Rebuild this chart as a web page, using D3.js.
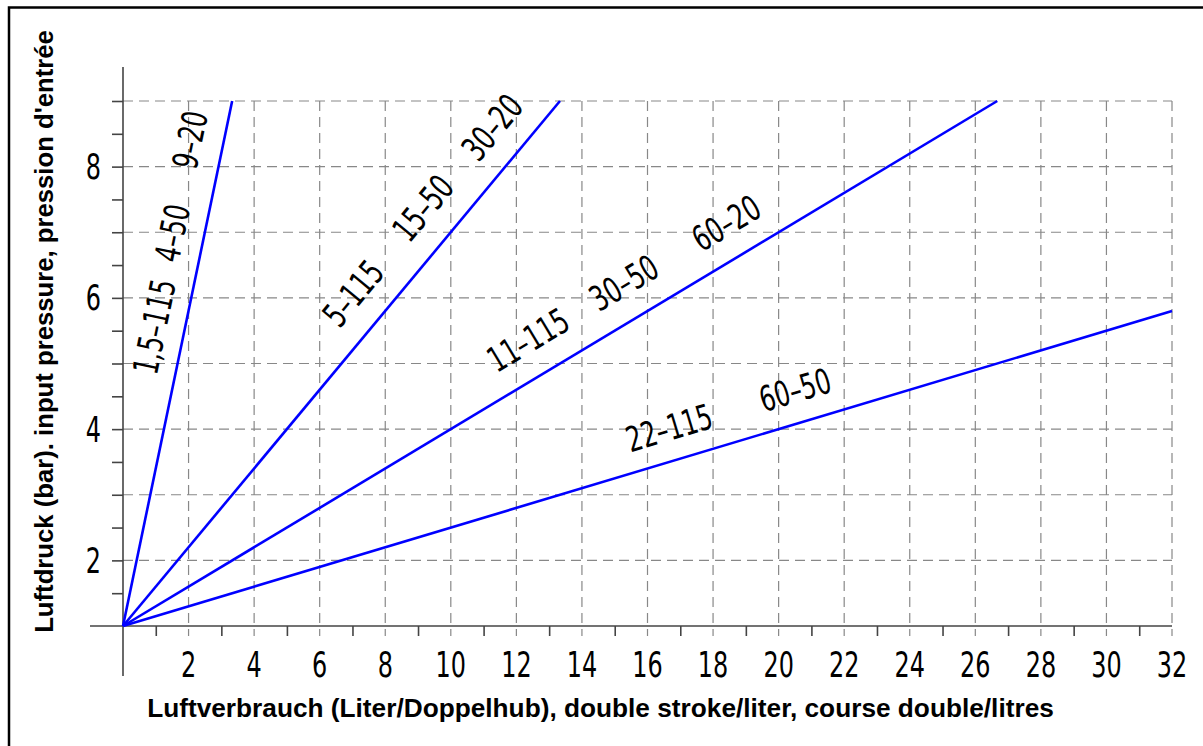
<!DOCTYPE html>
<html><head><meta charset="utf-8">
<script src="https://cdn.jsdelivr.net/npm/d3@7"></script>
<style>body{margin:0;background:#fff;} svg{display:block;}</style>
</head><body><svg id="c" width="1203" height="746"></svg>
<script>
// ---- data ----
const xTickLabels = [2,4,6,8,10,12,14,16,18,20,22,24,26,28,30,32];
const xMinorTicks = [1,3,5,7,9,11,13,15,17,19,21,23,25,27,29,31];
const yTickLabels = [2,4,6,8];
const yGridValues = [2,3,4,5,6,7,8,9];
const yMinorTicks = [1.5,2,2.5,3,3.5,4,4.5,5,5.5,6,6.5,7,7.5,8,8.5,9];
const lineStartX = [0,0,0,0];
const lineStartY = [1,1,1,1];
const lineEndX = [3.33, 13.33, 26.67, 32];
const lineEndY = [9, 9, 9, 5.8];
const curveLabels = ["1,5–115","4–50","9–20","5–115","15–50","30–20","11–115","30–50","60–20","22–115","60–50"];
const curveLabelSeries = [0,0,0,1,1,1,2,2,2,3,3];
const curveLabelX = [0.95,1.50,2.04,7.02,9.15,11.26,12.36,15.28,18.40,16.66,20.50];
const curveLabelY = [5.56,6.99,8.41,6.07,7.37,8.60,5.36,6.23,7.14,4.02,4.60];
const xTitle = "Luftverbrauch (Liter/Doppelhub), double stroke/liter, course double/litres";
const yTitle = "Luftdruck (bar). input pressure, pression d'entrée";

// ---- layout ----
const svg = d3.select("#c");
const x = d3.scaleLinear().domain([0,32]).range([123,1172]);
const y = d3.scaleLinear().domain([1,9]).range([626,101]);
const numFont = "'DejaVu Sans Condensed','DejaVu Sans',sans-serif";
const numSize = 35, sx = 0.76;

// frame
svg.append("rect").attr("x",9).attr("y",7.5).attr("width",1400).attr("height",1200)
  .attr("fill","none").attr("stroke","#000").attr("stroke-width",2.5);

// grid
const gridStyle = s => s.attr("stroke","#888").attr("stroke-width",1.2).attr("stroke-dasharray","10,6").attr("fill","none");
svg.append("g").selectAll("line").data(xTickLabels).join("line")
  .attr("x1",d=>x(d)).attr("x2",d=>x(d)).attr("y1",y(9)).attr("y2",y(1)+10).call(gridStyle);
svg.append("g").selectAll("line").data(yGridValues).join("line")
  .attr("x1",x(0)).attr("x2",x(32)).attr("y1",d=>y(d)).attr("y2",d=>y(d)).call(gridStyle);

// axes lines
const axCol = "#444";
svg.append("line").attr("x1",90).attr("x2",x(32)).attr("y1",y(1)).attr("y2",y(1)).attr("stroke",axCol).attr("stroke-width",1.6);
svg.append("line").attr("x1",x(0)).attr("x2",x(0)).attr("y1",67).attr("y2",676).attr("stroke",axCol).attr("stroke-width",1.6);

// minor ticks via d3 axes
const gx = svg.append("g").attr("transform",`translate(0,${y(1)})`)
  .call(d3.axisBottom(x).tickValues(xMinorTicks).tickSize(10).tickFormat(""));
const gy = svg.append("g").attr("transform",`translate(${x(0)},0)`)
  .call(d3.axisLeft(y).tickValues(yMinorTicks).tickSize(11).tickFormat(""));
[gx,gy].forEach(g=>{ g.select(".domain").remove(); g.selectAll(".tick line").attr("stroke",axCol).attr("stroke-width",1.6); });

// tick labels
svg.append("g").selectAll("g").data(xTickLabels).join("g")
  .attr("transform",d=>`translate(${x(d)},677) scale(${sx},1)`)
  .append("text").attr("text-anchor","middle").attr("font-family",numFont).attr("font-size",numSize)
  .attr("fill","#000").text(d=>d);
svg.append("g").selectAll("g").data(yTickLabels).join("g")
  .attr("transform",d=>`translate(101,${y(d)+12.5}) scale(${sx},1)`)
  .append("text").attr("text-anchor","end").attr("font-family",numFont).attr("font-size",numSize)
  .attr("fill","#000").text(d=>d);

// lines
const lineGen = d3.line().x(d=>x(d[0])).y(d=>y(d[1]));
svg.append("g").selectAll("path").data(lineEndX.map((e,i)=>[[lineStartX[i],lineStartY[i]],[e,lineEndY[i]]]))
  .join("path").attr("d",lineGen).attr("stroke","#0000ff").attr("stroke-width",2.6).attr("fill","none");

// curve labels
const angle = i => Math.atan2(y(lineEndY[i])-y(lineStartY[i]), x(lineEndX[i])-x(lineStartX[i]))*180/Math.PI;
svg.append("g").selectAll("g").data(curveLabels).join("g")
  .attr("transform",(d,k)=>`translate(${x(curveLabelX[k])},${y(curveLabelY[k])}) rotate(${angle(curveLabelSeries[k])}) scale(${sx},1)`)
  .append("text").attr("text-anchor","middle").attr("y",12.5).attr("font-family",numFont).attr("font-size",numSize)
  .attr("fill","#000").text(d=>d);

// titles
const titleFont = "'Liberation Sans',Arial,sans-serif";
function fit(t, target){ const l = t.node().getComputedTextLength(); t.attr("font-size", 22*target/l); }
const tx = svg.append("text").attr("x",600.5).attr("y",717).attr("text-anchor","middle")
  .attr("font-family",titleFont).attr("font-weight","bold").attr("font-size",22).text(xTitle);
fit(tx, 907);
const ty = svg.append("text").attr("transform","translate(53,331.5) rotate(-90)").attr("text-anchor","middle")
  .attr("font-family",titleFont).attr("font-weight","bold").attr("font-size",22).text(yTitle);
fit(ty, 603);
</script></body></html>
